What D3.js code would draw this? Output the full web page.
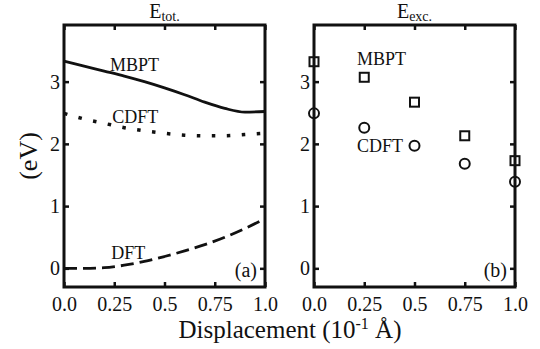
<!DOCTYPE html>
<html>
<head>
<meta charset="utf-8">
<script src="https://cdn.jsdelivr.net/npm/d3@7"></script>
<style>
  body { margin: 0; background: #fff; }
  svg text { font-family: "Liberation Serif", "Tinos", "DejaVu Serif", serif !important; fill: #111; }
</style>
</head>
<body>
<div id="chart"></div>
<script>
// Panel (a): total energies along displacement
const dispA = [0, 0.1, 0.2, 0.3, 0.4, 0.5, 0.6, 0.7, 0.8, 0.9, 1.0]
const mbptTot = [3.33, 3.25, 3.17, 3.09, 3.0, 2.9, 2.79, 2.67, 2.57, 2.51, 2.52]
const cdftTot = [2.49, 2.4, 2.33, 2.26, 2.21, 2.17, 2.14, 2.13, 2.13, 2.15, 2.17]
const dftTot = [0, 0, 0.01, 0.05, 0.11, 0.19, 0.28, 0.38, 0.5, 0.64, 0.8]

// Panel (b): excitation energies
const dispB = [0, 0.25, 0.5, 0.75, 1.0]
const mbptExc = [3.32, 3.07, 2.67, 2.13, 1.73]
const cdftExc = [2.49, 2.26, 1.97, 1.68, 1.39]

const xTicks = [0, 0.25, 0.5, 0.75, 1.0]
const xTickLabels = ['0.0', '0.25', '0.5', '0.75', '1.0']
const yTicks = [0, 1, 2, 3]

const width = 540
const height = 349
const plotTop = 25
const plotBottom = 287
const panels = [
  { left: 64, right: 265, title: 'E', sub: 'tot.', tag: '(a)' },
  { left: 314, right: 515, title: 'E', sub: 'exc.', tag: '(b)' }
]

const svg = d3.select('#chart')
  .append('svg')
  .attr('width', width)
  .attr('height', height)

const y = d3.scaleLinear()
  .domain([-0.3, 3.91])
  .range([plotBottom, plotTop])

function drawPanel (p) {
  const x = d3.scaleLinear().domain([0, 1]).range([p.left, p.right])
  const g = svg.append('g')

  // ticks (inward on all four sides)
  const axes = [
    d3.axisBottom(x).tickValues(xTicks).tickFormat((d, i) => xTickLabels[i]).tickPadding(10),
    d3.axisTop(x).tickValues(xTicks).tickFormat(''),
    d3.axisLeft(y).tickValues(yTicks).tickFormat(d3.format('d')).tickPadding(4),
    d3.axisRight(y).tickValues(yTicks).tickFormat('')
  ]
  const pos = [`translate(0,${plotBottom})`, `translate(0,${plotTop})`, `translate(${p.left},0)`, `translate(${p.right},0)`]
  axes.forEach((a, i) => {
    const ag = g.append('g')
      .attr('transform', pos[i])
      .call(a.tickSizeInner(-5).tickSizeOuter(0))
      .attr('font-family', null)
      .attr('font-size', 20)
    ag.select('.domain').remove()
    ag.selectAll('line').attr('stroke', '#111').attr('stroke-width', 2.5)
    ag.selectAll('text').attr('fill', '#111')
  })

  g.append('rect')
    .attr('x', p.left)
    .attr('y', plotTop)
    .attr('width', p.right - p.left)
    .attr('height', plotBottom - plotTop)
    .attr('fill', 'none')
    .attr('stroke', '#111')
    .attr('stroke-width', 3)

  const t = g.append('text')
    .attr('x', (p.left + p.right) / 2)
    .attr('y', 18)
    .attr('text-anchor', 'middle')
    .style('font-size', '20px')
  t.append('tspan').text(p.title)
  t.append('tspan').attr('dy', 2.5).style('font-size', '14px').text(p.sub)

  g.append('text')
    .attr('x', x(0.96))
    .attr('y', y(-0.14))
    .attr('text-anchor', 'end')
    .style('font-size', '20px')
    .text(p.tag)

  return { g, x }
}

// panel (a)
const a = drawPanel(panels[0])
const line = (vals) => d3.line()
  .x((d, i) => a.x(dispA[i]))
  .y(d => y(d))
  .curve(d3.curveMonotoneX)(vals)

a.g.append('path')
  .attr('d', line(mbptTot))
  .attr('fill', 'none')
  .attr('stroke', '#111')
  .attr('stroke-width', 2.8)

a.g.append('path')
  .attr('d', line(cdftTot))
  .attr('fill', 'none')
  .attr('stroke', '#111')
  .attr('stroke-width', 3.5)
  .attr('stroke-dasharray', '3.5,11.5')

a.g.append('path')
  .attr('d', line(dftTot))
  .attr('fill', 'none')
  .attr('stroke', '#111')
  .attr('stroke-width', 2.8)
  .attr('stroke-dasharray', '13,6')

const labelsA = [
  { t: 'MBPT', x: 0.229, y: 3.17 },
  { t: 'CDFT', x: 0.24, y: 2.34 },
  { t: 'DFT', x: 0.235, y: 0.15 }
]
a.g.selectAll('.lab')
  .data(labelsA)
  .join('text')
  .attr('x', d => a.x(d.x))
  .attr('y', d => y(d.y))
  .style('font-size', '18px')
  .text(d => d.t)

// panel (b)
const b = drawPanel(panels[1])
const sq = 9
b.g.selectAll('.sq')
  .data(mbptExc)
  .join('rect')
  .attr('x', (d, i) => b.x(dispB[i]) - sq / 2)
  .attr('y', d => y(d) - sq / 2)
  .attr('width', sq)
  .attr('height', sq)
  .attr('fill', 'none')
  .attr('stroke', '#111')
  .attr('stroke-width', 2)

b.g.selectAll('.ci')
  .data(cdftExc)
  .join('circle')
  .attr('cx', (d, i) => b.x(dispB[i]))
  .attr('cy', d => y(d))
  .attr('r', 5)
  .attr('fill', 'none')
  .attr('stroke', '#111')
  .attr('stroke-width', 2)

const labelsB = [
  { t: 'MBPT', x: 0.214, y: 3.27 },
  { t: 'CDFT', x: 0.214, y: 1.87 }
]
b.g.selectAll('.lab')
  .data(labelsB)
  .join('text')
  .attr('x', d => b.x(d.x))
  .attr('y', d => y(d.y))
  .style('font-size', '18px')
  .text(d => d.t)

// axis titles
svg.append('text')
  .attr('transform', `translate(37, ${(plotTop + plotBottom) / 2}) rotate(-90)`)
  .attr('text-anchor', 'middle')
  .style('font-size', '26px')
  .text('(eV)')

const xl = svg.append('text')
  .attr('x', 290)
  .attr('y', 338)
  .attr('text-anchor', 'middle')
  .style('font-size', '25px')
xl.append('tspan').text('Displacement (10')
xl.append('tspan').attr('dy', -9).style('font-size', '16px').text('-1')
xl.append('tspan').attr('dy', 9).text(' Å)')
</script>
</body>
</html>
